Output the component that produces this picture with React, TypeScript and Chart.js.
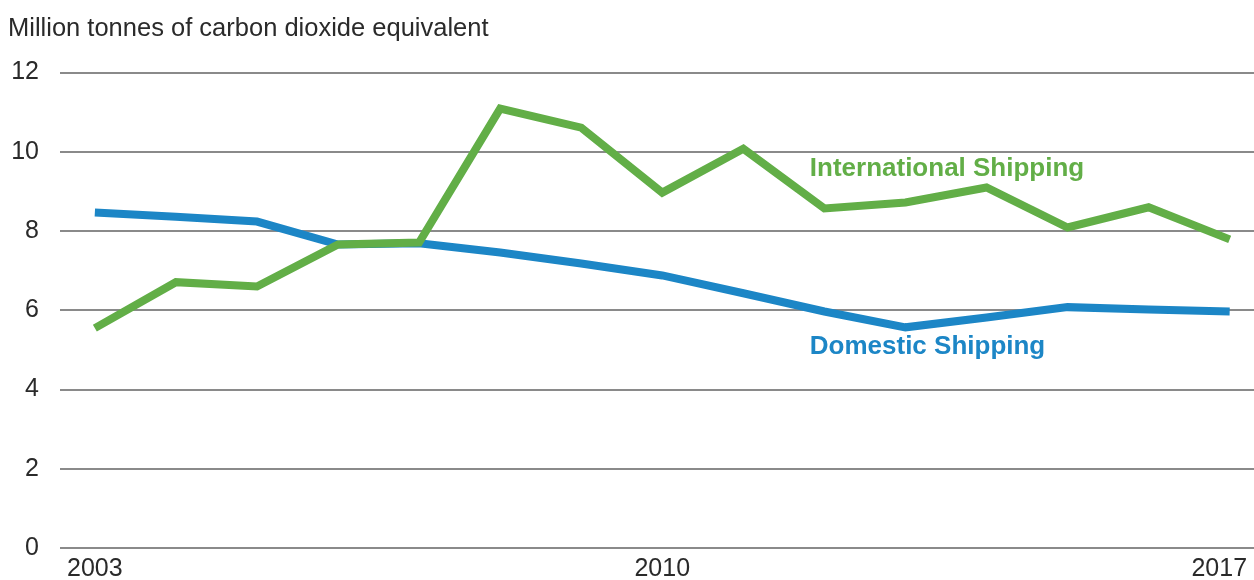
import React, { useEffect, useRef } from 'react';
import { Chart, registerables } from 'chart.js';

Chart.register(...registerables);

const years = [2003, 2004, 2005, 2006, 2007, 2008, 2009, 2010, 2011, 2012, 2013, 2014, 2015, 2016, 2017];
const international = [5.55, 6.71, 6.6, 7.66, 7.71, 11.09, 10.61, 8.97, 10.08, 8.57, 8.72, 9.1, 8.09, 8.6, 7.79];
const domestic = [8.47, 8.36, 8.24, 7.66, 7.69, 7.46, 7.18, 6.88, 6.43, 5.97, 5.57, 5.82, 6.08, 6.02, 5.97];
const xTickYears = [2003, 2010, 2017];
const yTickValues = [0, 2, 4, 6, 8, 10, 12];
const seriesNames = ['International Shipping', 'Domestic Shipping'];
const yTitle = 'Million tonnes of carbon dioxide equivalent';

const GREEN = '#62ae47';
const BLUE = '#1c86c6';
const FONT = '"Liberation Sans", Arial, Helvetica, sans-serif';

const seriesLabelPlugin = {
  id: 'seriesLabels',
  afterDatasetsDraw(chart: any) {
    const { ctx, scales } = chart;
    const xs = scales.x;
    const ys = scales.y;
    const items = [
      { text: seriesNames[0], color: GREEN, x: 2011.82, y: 9.56 },
      { text: seriesNames[1], color: BLUE, x: 2011.82, y: 5.07 },
    ];
    ctx.save();
    ctx.font = `bold 26px ${FONT}`;
    ctx.textAlign = 'left';
    ctx.textBaseline = 'middle';
    for (const it of items) {
      ctx.fillStyle = it.color;
      ctx.fillText(it.text, xs.getPixelForValue(it.x), ys.getPixelForValue(it.y));
    }
    ctx.restore();
  },
};

export default function App() {
  const ref = useRef<HTMLCanvasElement | null>(null);

  useEffect(() => {
    if (!ref.current) return;
    const chart = new Chart(ref.current, {
      type: 'line',
      data: {
        datasets: [
          {
            label: seriesNames[0],
            data: years.map((y, i) => ({ x: y, y: international[i] })),
            borderColor: GREEN,
            borderWidth: 8,
            pointRadius: 0,
            tension: 0,
            fill: false,
          },
          {
            label: seriesNames[1],
            data: years.map((y, i) => ({ x: y, y: domestic[i] })),
            borderColor: BLUE,
            borderWidth: 8,
            pointRadius: 0,
            tension: 0,
            fill: false,
          },
        ],
      },
      options: {
        animation: false,
        responsive: false,
        layout: { padding: { left: 8, right: 0, top: 0, bottom: 0 } },
        plugins: {
          legend: { display: false },
          tooltip: { enabled: false },
          title: {
            display: true,
            text: yTitle,
            align: 'start',
            color: '#2a2a2a',
            font: { family: FONT, size: 25.5, weight: 'normal', lineHeight: 1.2 },
            padding: { top: 14, bottom: 28 },
          },
        },
        scales: {
          x: {
            type: 'linear',
            min: 2002.57,
            max: 2017.3,
            grid: { display: false, drawTicks: false },
            border: { display: false },
            afterBuildTicks: (scale: any) => {
              scale.ticks = xTickYears.map((v) => ({ value: v }));
            },
            afterFit: (scale: any) => {
              scale.height = 32;
              scale.paddingLeft = 0;
              scale.paddingRight = 0;
            },
            ticks: {
              autoSkip: false,
              maxRotation: 0,
              padding: 6,
              color: '#2a2a2a',
              font: { family: FONT, size: 25 },
              callback: (v: any) => {
                const s = String(v);
                return Number(v) === xTickYears[xTickYears.length - 1] ? s + '   ' : s;
              },
            },
          },
          y: {
            min: 0,
            max: 12,
            grid: { color: '#8a8a8a', lineWidth: 2, drawTicks: false },
            border: { display: false },
            afterBuildTicks: (scale: any) => {
              scale.ticks = yTickValues.map((v) => ({ value: v }));
            },
            afterFit: (scale: any) => {
              scale.width = 52;
              scale.paddingTop = 0;
              scale.paddingBottom = 0;
            },
            ticks: {
              padding: 21,
              color: '#2a2a2a',
              font: { family: FONT, size: 25 },
            },
          },
        },
      },
      plugins: [seriesLabelPlugin],
    } as any);
    return () => chart.destroy();
  }, []);

  return (
    <div style={{ position: 'absolute', left: 0, top: 0, width: 1254, height: 580, background: '#fff' }}>
      <canvas ref={ref} width={1254} height={580} style={{ display: 'block' }} />
    </div>
  );
}
